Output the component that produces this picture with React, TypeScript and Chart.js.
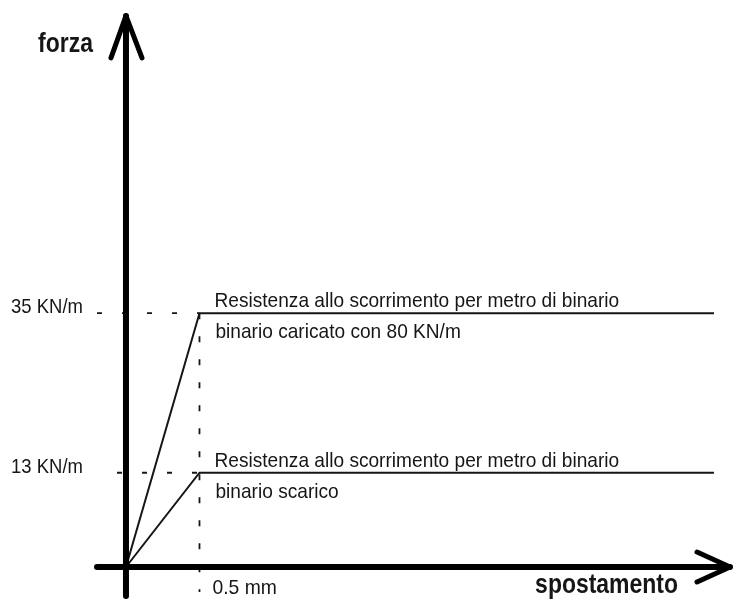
import React, { useEffect, useRef } from 'react';
import { Chart, registerables } from 'chart.js';

Chart.register(...registerables);

// ---- data ----
const displacementMm = [0, 0.5, 4];
const loadedForce = [0, 35, 35];
const unloadedForce = [0, 13, 13];
const forceTickValues = [35, 13];
const forceTickLabels = ['35 KN/m', '13 KN/m'];
const guideStartMm = [-0.197, -0.061];
const dispTickValues = [0.5];
const dispTickLabels = ['0.5 mm'];
const guideBottomForce = -3.45;
const lineTitles = [
  'Resistenza allo scorrimento per metro di binario',
  'Resistenza allo scorrimento per metro di binario',
];
const lineSubtitles = ['binario caricato con 80 KN/m', 'binario scarico'];
const yAxisTitle = 'forza';
const xAxisTitle = 'spostamento';
const xRange = [-0.857, 4.143];
const yRange = [-4.69, 78.2];
const xAxisExtent = [-0.197, 4.109];
const yAxisExtent = [-4.0, 76.0];

const INK = '#161616';
const NORMAL_FONT = '21px "Liberation Sans", Arial, sans-serif';
const BOLD_FONT = 'bold 28px "Liberation Sans", Arial, sans-serif';

function drawText(
  ctx: CanvasRenderingContext2D,
  s: string,
  x: number,
  y: number,
  font: string,
  sx: number,
  align: 'left' | 'right' = 'left'
) {
  ctx.save();
  ctx.font = font;
  const w = ctx.measureText(s).width * sx;
  const left = align === 'right' ? x - w : x;
  ctx.translate(left, y);
  ctx.scale(sx, 1);
  ctx.textAlign = 'left';
  ctx.textBaseline = 'alphabetic';
  ctx.fillStyle = INK;
  ctx.fillText(s, 0, 0);
  ctx.restore();
}

const decorPlugin = {
  id: 'decor',
  afterDatasetsDraw(chart: any) {
    const { ctx } = chart;
    const xs = chart.scales.x;
    const ys = chart.scales.y;
    const X = (v: number) => xs.getPixelForValue(v);
    const Y = (v: number) => ys.getPixelForValue(v);
    const ox = X(0);
    const oy = Y(0);
    ctx.save();
    ctx.strokeStyle = '#000';
    ctx.lineCap = 'round';
    ctx.lineJoin = 'round';

    // y axis + arrow
    const yTop = Y(yAxisExtent[1]);
    const yBot = Y(yAxisExtent[0]);
    ctx.lineWidth = 6;
    ctx.beginPath();
    ctx.moveTo(ox, yBot);
    ctx.lineTo(ox, yTop);
    ctx.stroke();
    ctx.lineWidth = 5;
    ctx.beginPath();
    ctx.moveTo(ox - 15, yTop + 42);
    ctx.lineTo(ox, yTop);
    ctx.lineTo(ox + 16, yTop + 42);
    ctx.stroke();

    // x axis + arrow
    const xL = X(xAxisExtent[0]);
    const xR = X(xAxisExtent[1]);
    ctx.lineWidth = 6;
    ctx.beginPath();
    ctx.moveTo(xL, oy);
    ctx.lineTo(xR, oy);
    ctx.stroke();
    ctx.lineWidth = 5;
    ctx.beginPath();
    ctx.moveTo(xR - 33, oy - 15);
    ctx.lineTo(xR, oy);
    ctx.lineTo(xR - 33, oy + 15);
    ctx.stroke();
    ctx.restore();

    // axis titles
    drawText(ctx, yAxisTitle, ox - 33, yTop + 36, BOLD_FONT, 0.82, 'right');
    drawText(ctx, xAxisTitle, xR - 52, oy + 26, BOLD_FONT, 0.82, 'right');

    // tick labels
    forceTickValues.forEach((v, i) => {
      drawText(ctx, forceTickLabels[i], ox - 43, Y(v), NORMAL_FONT, 0.88, 'right');
    });
    dispTickValues.forEach((v, i) => {
      drawText(ctx, dispTickLabels[i], X(v) + 13, oy + 27, NORMAL_FONT, 0.92, 'left');
    });

    // line annotations
    forceTickValues.forEach((v, i) => {
      drawText(ctx, lineTitles[i], X(0.5) + 15, Y(v) - 6, NORMAL_FONT, 0.91, 'left');
      drawText(ctx, lineSubtitles[i], X(0.5) + 16, Y(v) + 25, NORMAL_FONT, 0.91, 'left');
    });
  },
};

export default function App() {
  const canvasRef = useRef<HTMLCanvasElement | null>(null);

  useEffect(() => {
    if (!canvasRef.current) return;
    const pts = (ys: number[]) => displacementMm.map((x, i) => ({ x, y: ys[i] }));
    const solid = (data: any) => ({
      data,
      borderColor: INK,
      borderWidth: 2,
      pointRadius: 0,
      fill: false,
      tension: 0,
    });
    const dashed = (data: any, dash: number[]) => ({
      data,
      borderColor: INK,
      borderWidth: 1.8,
      borderDash: dash,
      pointRadius: 0,
      fill: false,
      tension: 0,
    });
    const guideX = dispTickValues[0];
    const chart = new Chart(canvasRef.current, {
      type: 'line',
      data: {
        datasets: [
          solid(pts(loadedForce)),
          solid(pts(unloadedForce)),
          dashed(
            [
              { x: guideStartMm[0], y: forceTickValues[0] },
              { x: guideX, y: forceTickValues[0] },
            ],
            [5, 20]
          ),
          dashed(
            [
              { x: guideStartMm[1], y: forceTickValues[1] },
              { x: guideX, y: forceTickValues[1] },
            ],
            [5, 20]
          ),
          dashed(
            [
              { x: guideX, y: forceTickValues[0] },
              { x: guideX, y: guideBottomForce },
            ],
            [6, 17]
          ),
        ] as any,
      },
      options: {
        animation: false,
        responsive: false,
        maintainAspectRatio: false,
        layout: { padding: 0 },
        plugins: {
          legend: { display: false },
          tooltip: { enabled: false },
        },
        scales: {
          x: { type: 'linear', min: xRange[0], max: xRange[1], display: false },
          y: { type: 'linear', min: yRange[0], max: yRange[1], display: false },
        },
      },
      plugins: [decorPlugin],
    });
    return () => chart.destroy();
  }, []);

  return (
    <div style={{ position: 'absolute', left: 0, top: 0, width: 735, height: 601, background: '#fff' }}>
      <canvas ref={canvasRef} width={735} height={601} style={{ display: 'block' }} />
    </div>
  );
}
